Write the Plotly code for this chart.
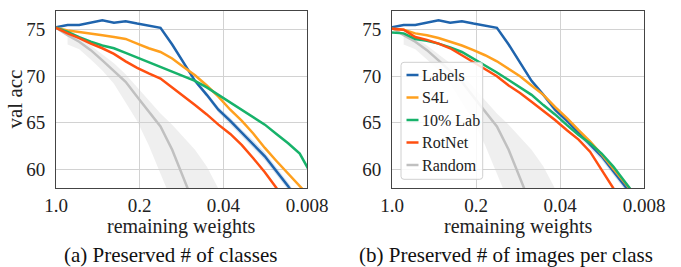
import plotly.graph_objects as go

# ---------------- data ----------------
remaining = [1.0, 0.8, 0.64, 0.512, 0.41, 0.328, 0.262, 0.21, 0.168, 0.134, 0.107,
             0.086, 0.069, 0.055, 0.044, 0.035, 0.028, 0.0225, 0.018, 0.0144,
             0.0115, 0.0092, 0.0074]

labels_acc = [75.25, 75.5, 75.5, 75.75, 76.0, 75.75, 75.9, 75.65, 75.45, 75.2, 73.4,
              71.5, 69.5, 68.0, 66.4, 65.2, 63.9, 62.7, 61.4, 59.8, 58.2, 56.3, 54.0]
labels_err = [0, 0, 0, 0, 0, 0, 0, 0, 0, 0, 0.1, 0.15, 0.2, 0.25, 0.3, 0.35, 0.35,
              0.4, 0.4, 0.4, 0.4, 0.4, 0.4]

# (a) Preserved # of classes
a_s4l = [75.2, 74.9, 74.75, 74.6, 74.4, 74.2, 74.0, 73.5, 73.0, 72.6, 71.9, 71.0,
         70.1, 69.0, 67.8, 66.4, 65.2, 63.85, 62.3, 60.9, 59.6, 58.3, 56.9]
a_lab10 = [75.2, 74.75, 74.2, 73.7, 73.3, 73.0, 72.5, 72.0, 71.5, 71.0, 70.5, 70.0,
           69.5, 68.8, 68.0, 67.2, 66.4, 65.6, 64.8, 63.8, 62.8, 61.7, 59.5]
a_rotnet = [75.2, 74.6, 74.1, 73.5, 73.0, 72.4, 71.6, 70.9, 70.3, 69.75, 68.8, 67.9,
            66.9, 65.9, 64.8, 63.8, 62.6, 61.2, 59.7, 58.0, 56.0]

# (b) Preserved # of images per class
b_s4l = [75.1, 75.0, 74.6, 74.4, 74.1, 73.7, 73.3, 72.8, 72.25, 71.6, 70.8, 70.0,
         69.0, 68.0, 66.7, 65.5, 64.2, 63.0, 61.6, 60.1, 58.6, 57.0]
b_lab10 = [74.7, 74.6, 74.0, 73.8, 73.5, 73.1, 72.6, 71.9, 71.2, 70.4, 69.6, 68.8,
           68.0, 66.9, 65.9, 64.75, 63.7, 62.8, 61.7, 60.3, 58.7, 57.0]
b_rotnet = [75.1, 75.0, 74.2, 73.9, 73.5, 73.0, 72.25, 71.5, 70.8, 70.0, 69.0, 68.2,
            67.25, 66.3, 65.3, 64.2, 63.2, 61.9, 60.0, 58.0, 56.0]

# Random pruning (shared)
random_acc = [75.2, 74.4, 73.7, 72.8, 71.7, 70.6, 69.4, 67.8, 66.2, 64.6, 62.1, 59.2, 56.0]
random_hi = [74.4, 74.1, 73.3, 72.4, 71.4, 70.2, 68.8, 67.4, 66.0, 64.8, 63.4, 62.1,
             60.3, 58.1, 55.5]
random_lo = [73.4, 72.9, 71.8, 70.6, 69.2, 67.2, 65.2, 62.6, 59.5, 56.5]

series_names = ["Labels", "S4L", "10% Lab", "RotNet", "Random"]
colors = ["#1f64ad", "#ffa01e", "#17b26a", "#ff4f10", "#c0c0c0"]

x_tickvals = [1.0, 0.2, 0.04, 0.008]
x_ticktext = ["1.0", "0.2", "0.04", "0.008"]
y_tickvals = [60, 65, 70, 75]
captions = ["(a) Preserved # of classes", "(b) Preserved # of images per class"]

FONT = "'Liberation Serif', 'Times New Roman', 'DejaVu Serif', serif"

fig = go.Figure()

panels = [
    ("x", "y", [labels_acc, a_s4l, a_lab10, a_rotnet, random_acc]),
    ("x2", "y2", [labels_acc, b_s4l, b_lab10, b_rotnet, random_acc]),
]

for xa, ya, data in panels:
    # random band
    fig.add_trace(go.Scatter(x=remaining[1:1 + len(random_lo)], y=random_lo, mode="lines",
                             line=dict(width=0), hoverinfo="skip", showlegend=False,
                             xaxis=xa, yaxis=ya))
    fig.add_trace(go.Scatter(x=remaining[1:1 + len(random_hi)], y=random_hi, mode="lines",
                             line=dict(width=0), fill="tonexty",
                             fillcolor="rgba(205,205,205,0.33)", hoverinfo="skip",
                             showlegend=False, xaxis=xa, yaxis=ya))
    # labels band
    up = [v + e for v, e in zip(labels_acc, labels_err)]
    dn = [v - e for v, e in zip(labels_acc, labels_err)]
    fig.add_trace(go.Scatter(x=remaining, y=dn, mode="lines", line=dict(width=0),
                             hoverinfo="skip", showlegend=False, xaxis=xa, yaxis=ya))
    fig.add_trace(go.Scatter(x=remaining, y=up, mode="lines", line=dict(width=0),
                             fill="tonexty", fillcolor="rgba(31,100,173,0.18)",
                             hoverinfo="skip", showlegend=False, xaxis=xa, yaxis=ya))
    order = [4, 0, 1, 2, 3]
    for i in order:
        vals = data[i]
        fig.add_trace(go.Scatter(x=remaining[:len(vals)], y=vals, mode="lines",
                                 name=series_names[i],
                                 line=dict(color=colors[i], width=2.5),
                                 showlegend=False, xaxis=xa, yaxis=ya))

W, H = 681, 267
ML, MR, MT, MB = 56, 37, 11, 79
PW = W - ML - MR
PH = H - MT - MB


def px(xp):
    return (xp - ML) / PW


def py(yp):
    return (H - MB - yp) / PH


axis_common = dict(showline=True, mirror=True, linecolor="#444444", linewidth=1,
                   showgrid=True, gridcolor="#d2d2d2", gridwidth=1.2, zeroline=False,
                   ticks="", tickfont=dict(family=FONT, size=19, color="#222222"))

xa = dict(type="log", range=[0, -2.0969], tickvals=x_tickvals, ticktext=x_ticktext,
          ticklabelstandoff=0, **axis_common)
ya = dict(range=[58, 77], tickvals=y_tickvals, ticklabelstandoff=6, **axis_common)

fig.update_layout(
    width=W, height=H,
    margin=dict(l=ML, r=MR, t=MT, b=MB),
    paper_bgcolor="white", plot_bgcolor="white",
    showlegend=False,
    xaxis=dict(domain=[0, px(307)], anchor="y", **xa),
    xaxis2=dict(domain=[px(392), 1], anchor="y2", **xa),
    yaxis=dict(anchor="x", **ya),
    yaxis2=dict(anchor="x2", **ya),
)

ann = []
# axis titles
ann.append(dict(text="val acc", x=px(14), y=0.5, xref="paper", yref="paper",
                textangle=-90, showarrow=False, xanchor="center", yanchor="middle",
                font=dict(family=FONT, size=21, color="#222222")))
for cx in [181.5, 518]:
    ann.append(dict(text="remaining weights", x=px(cx), y=py(226), xref="paper",
                    yref="paper", showarrow=False, xanchor="center", yanchor="middle",
                    font=dict(family=FONT, size=20, color="#222222")))
for cx, cap in zip([170, 506], captions):
    ann.append(dict(text=cap, x=px(cx), y=py(254.5), xref="paper", yref="paper",
                    showarrow=False, xanchor="center", yanchor="middle",
                    font=dict(family=FONT, size=21, color="#111111")))

shapes = []
# manual legend in panel (b)
lx0, lx1, ly0, ly1 = 401, 482.7, 62.3, 179.3
r = 3
path = (f"M {px(lx0 + r)},{py(ly0)} L {px(lx1 - r)},{py(ly0)} "
        f"Q {px(lx1)},{py(ly0)} {px(lx1)},{py(ly0 + r)} "
        f"L {px(lx1)},{py(ly1 - r)} Q {px(lx1)},{py(ly1)} {px(lx1 - r)},{py(ly1)} "
        f"L {px(lx0 + r)},{py(ly1)} Q {px(lx0)},{py(ly1)} {px(lx0)},{py(ly1 - r)} "
        f"L {px(lx0)},{py(ly0 + r)} Q {px(lx0)},{py(ly0)} {px(lx0 + r)},{py(ly0)} Z")
shapes.append(dict(type="path", path=path, xref="paper", yref="paper",
                   fillcolor="rgba(255,255,255,0.85)",
                   line=dict(color="#d0d0d0", width=1), layer="above"))
entry_y = [75, 97.5, 120, 142.5, 165]
for name, col, ey in zip(series_names, colors, entry_y):
    shapes.append(dict(type="line", xref="paper", yref="paper",
                       x0=px(406.5), x1=px(418.5), y0=py(ey), y1=py(ey),
                       line=dict(color=col, width=2.5), layer="above"))
    ann.append(dict(text=name, x=px(420), y=py(ey), xref="paper", yref="paper",
                    showarrow=False, xanchor="left", yanchor="middle",
                    font=dict(family=FONT, size=16, color="#222222")))

fig.update_layout(annotations=ann, shapes=shapes)
fig.write_html("out.html", config={"displayModeBar": False},
               post_script="document.body.style.margin='0';")
